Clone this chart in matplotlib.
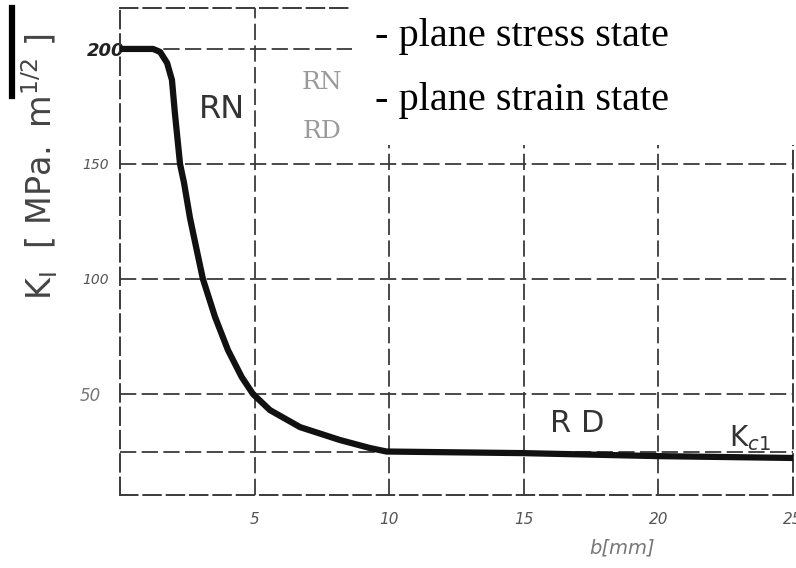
import matplotlib
matplotlib.use("Agg")
import matplotlib.pyplot as plt
from matplotlib.patches import Rectangle
from matplotlib.lines import Line2D
import matplotlib.transforms as mtransforms

# data
b_mm = [0, 1.23, 1.49, 1.75, 1.93, 2.04, 2.23, 2.38, 2.6, 2.85, 3.08, 3.53, 4.01,
        4.52, 4.94, 5.57, 6.69, 8.17, 9.29, 9.9, 15, 20, 25]
k_vals = [200, 200, 198.7, 193.9, 186.5, 172, 150, 141.7, 126.5, 112.6, 100, 83.5, 69.1,
          57.4, 50, 43, 35.6, 30, 26.5, 25, 24.3, 23.0, 22.2]
x_ticks = [5, 10, 15, 20, 25]
x_tick_labels = ["5", "10", "15", "20", "25"]
y_ticks = [50, 100, 150, 200]
y_tick_labels = ["50", "100", "150", "200"]
h_grid = [25, 50, 100, 150, 200]
v_grid = [5, 10, 15, 20]
legend_lines = ["- plane stress state", "- plane strain state"]

W, H = 796, 568
fig = plt.figure(figsize=(W / 100, H / 100), dpi=100)
fig.patch.set_facecolor("white")

def fx(px):
    return px / W

def fy(py):
    return 1 - py / H

ax = fig.add_axes([fx(120), fy(495), fx(793) - fx(120), fy(8) - fy(495)])
ax.set_xlim(0, 25)
ax.set_ylim(6.1, 217.8)

dash = (0, (9, 3))
gcol = "#3a3a3a"
for yv in h_grid:
    ax.axhline(yv, color=gcol, lw=1.3, linestyle=dash, zorder=1)
for xv in v_grid:
    ax.axvline(xv, color=gcol, lw=1.3, linestyle=dash, zorder=1)
for s in ax.spines.values():
    s.set_color(gcol)
    s.set_linewidth(1.4)
    s.set_linestyle(dash)

ax.plot(b_mm, k_vals, color="#111111", lw=4.5, solid_capstyle="round",
        solid_joinstyle="round", zorder=3)

ax.set_xticks(x_ticks)
ax.set_xticklabels(x_tick_labels, fontsize=11, color="#555555", style="italic")
ax.set_yticks(y_ticks)
ax.set_yticklabels(y_tick_labels, fontsize=10, color="#555555", style="italic")
ax.tick_params(axis="both", length=0)
ax.tick_params(axis="x", pad=12)
ax.tick_params(axis="y", pad=8)
for lab in ax.get_yticklabels():
    if lab.get_text() == "200":
        lab.set_fontweight("bold")
        lab.set_fontsize(13)
        lab.set_color("#222222")
        lab.set_transform(lab.get_transform() +
                          mtransforms.ScaledTranslation(11 / 72, 0, fig.dpi_scale_trans))
    if lab.get_text() == "50":
        lab.set_fontsize(12)
        lab.set_color("#777777")
        lab.set_transform(lab.get_transform() +
                          mtransforms.ScaledTranslation(-6 / 72, 0, fig.dpi_scale_trans))

ax.set_xlabel("b[mm]", fontsize=14, color="#777777", style="italic", labelpad=0)
ax.xaxis.set_label_coords(0.746, -0.09)

fig.text(fx(40), fy(167), r"$\mathrm{K_{I}\ \ [\ MPa.\ m^{1/2}\ ]}$", rotation=90,
         fontsize=24, color="#444444", ha="center", va="center")

# region labels
ax.text(3.79, 173.5, "RN", fontsize=23, color="#333333", ha="center", va="center")
ax.text(7.5, 185.2, "RN", fontsize=18, color="#9a9a9a", ha="center", va="center", family="DejaVu Serif")
ax.text(7.5, 164.3, "RD", fontsize=18, color="#9a9a9a", ha="center", va="center", family="DejaVu Serif")
ax.text(17.0, 37, "R D", fontsize=22, color="#333333", ha="center", va="center")
ax.text(23.4, 31, r"K$_{c1}$", fontsize=20, color="#333333", ha="center", va="center")

# white legend box
fig.add_artist(Rectangle((fx(352), fy(145)), 1 - fx(352), fy(0) - fy(145),
                         transform=fig.transFigure, facecolor="white",
                         edgecolor="none", zorder=10))
fig.text(fx(375), fy(46), legend_lines[0], fontsize=29, family="Liberation Serif",
         color="black", ha="left", va="baseline", zorder=11)
fig.text(fx(375), fy(110), legend_lines[1], fontsize=29, family="Liberation Serif",
         color="black", ha="left", va="baseline", zorder=11)

# scan artifact at left edge
fig.add_artist(Line2D([fx(12), fx(12)], [fy(8), fy(96)], transform=fig.transFigure,
                      color="black", lw=4.5))

fig.savefig("out.png", dpi=100, facecolor="white")
